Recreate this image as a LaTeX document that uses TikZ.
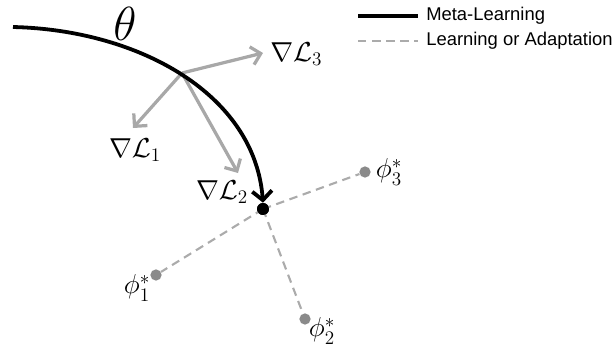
\documentclass[tikz,border=0pt]{standalone}
\usepackage{fix-cm}
\usepackage{fontspec}
\setsansfont{Liberation Sans}
\usepackage{amsmath}
\usepackage{tikz}
\usetikzlibrary{arrows.meta,positioning}
\definecolor{gradgray}{HTML}{A8A8A8}
\definecolor{adaptgray}{HTML}{ABABAB}
\definecolor{taskgray}{HTML}{8A8A8A}
\tikzset{
  metapath/.style={
    line width=2.7pt, draw=black,
    -{Straight Barb[length=6.5pt, width=14pt, line width=2.7pt]}
  },
  gradarrow/.style={
    line width=2.3pt, draw=gradgray,
    -{Straight Barb[length=6.5pt, width=13pt, line width=2.3pt]}
  },
  adaptline/.style={
    line width=1.5pt, draw=adaptgray, dash pattern=on 6pt off 4pt
  },
  metadot/.style={
    circle, fill=black, inner sep=0pt, minimum size=8.5pt
  },
  taskdot/.style={
    circle, fill=taskgray, inner sep=0pt, minimum size=8pt
  },
  mathlabel/.style={
    font=\fontsize{19.5}{19.5}\selectfont, inner sep=0pt
  },
  keylabel/.style={
    font=\sffamily\fontsize{13.1}{13.1}\selectfont, anchor=west, inner sep=0pt
  },
}
\begin{document}
\begin{tikzpicture}[x=0.025cm, y=-0.025cm]
  \useasboundingbox (0,0) rectangle (614,349);

  % meta parameters and gradient origin
  \coordinate (start) at (13,27);
  \coordinate (orig) at (182,73);
  \node[metadot] (meta) at (263,209) {};
  \node[font=\fontsize{34}{34}\selectfont, inner sep=0pt] (theta) at (125,24) {$\theta$};

  % per-task optimal parameters
  \node[taskdot] (phi1) at (156,275) {};
  \node[taskdot] (phi2) at (305,319) {};
  \node[taskdot] (phi3) at (365,172) {};
  \node[mathlabel] (lphi1) at (137,288) {$\phi_1^*$};
  \node[mathlabel] (lphi2) at (322,331) {$\phi_2^*$};
  \node[mathlabel] (lphi3) at (389,172) {$\phi_3^*$};

  % adaptation steps
  \foreach \t in {phi1,phi2,phi3} {
    \draw[adaptline] (meta.center) -- (\t);
  }
  \node[metadot] at (meta) {};

  % gradients of the task losses
  \coordinate (g1) at (133,128);
  \coordinate (g2) at (238,173);
  \coordinate (g3) at (263,53);
  \node[mathlabel] (lg1) at (135,150) {$\nabla\mathcal{L}_1$};
  \node[mathlabel] (lg2) at (222,192) {$\nabla\mathcal{L}_2$};
  \node[mathlabel, anchor=west] (lg3) at (270,54) {$\nabla\mathcal{L}_3$};
  \foreach \g in {g1,g2,g3} {
    \draw[gradarrow] (orig) -- (\g);
  }

  % meta-learning path
  \draw[metapath] (start) .. controls (140,30) and (255,95) .. (meta.north);

  % legend
  \coordinate (k1a) at (358,16);
  \coordinate (k1b) at (418,16);
  \coordinate (k2a) at (358,41);
  \coordinate (k2b) at (418,41);
  \draw[line width=2.4pt] (k1a) -- (k1b);
  \draw[adaptline] (k2a) -- (k2b);
  \node[keylabel] (key1) at (426,16) {Meta-Learning};
  \node[keylabel] (key2) at (426,41) {Learning or Adaptation};
\end{tikzpicture}
\end{document}
